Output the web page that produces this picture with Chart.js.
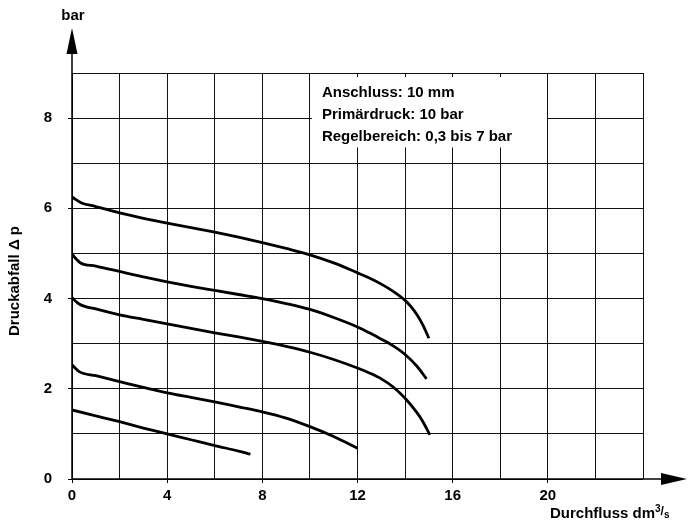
<!DOCTYPE html>
<html>
<head>
<meta charset="utf-8">
<script src="https://cdn.jsdelivr.net/npm/chart.js@4/dist/chart.umd.min.js"></script>
<style>
  html, body { margin: 0; padding: 0; background: #fff; }
  #wrap { width: 688px; height: 527px; }
</style>
</head>
<body>
<div id="wrap"><canvas id="chart"></canvas></div>
<script>
// Durchfluss (dm3/s) and Druckabfall (bar), one pair per curve
const flow1 = [0, 0.4, 1, 2, 3, 4, 5, 6, 7, 8, 9, 10, 11, 12, 12.5, 13, 13.5, 14, 14.25, 14.5, 14.75, 15];
const drop1 = [6.25, 6.12, 6.04, 5.9, 5.78, 5.67, 5.57, 5.47, 5.36, 5.24, 5.11, 4.97, 4.79, 4.57, 4.455, 4.32, 4.16, 3.96, 3.82, 3.64, 3.41, 3.12];
const flow2 = [0, 0.36, 1, 2, 3, 4, 5, 6, 7, 8, 9, 10, 11, 12, 12.5, 13, 13.5, 14, 14.5, 14.9];
const drop2 = [4.98, 4.79, 4.72, 4.6, 4.48, 4.37, 4.27, 4.18, 4.09, 4.0, 3.89, 3.76, 3.58, 3.37, 3.24, 3.1, 2.95, 2.76, 2.5, 2.22];
const flow3 = [0, 0.3, 1, 2, 3, 4, 5, 6, 7, 8, 9, 10, 11, 12, 12.5, 13, 13.5, 14, 14.5, 14.75, 15.04];
const drop3 = [4.02, 3.88, 3.77, 3.64, 3.54, 3.44, 3.34, 3.24, 3.15, 3.05, 2.94, 2.81, 2.65, 2.46, 2.35, 2.22, 2.04, 1.79, 1.47, 1.27, 0.98];
const flow4 = [0, 0.3, 1, 2, 3, 4, 5, 6, 7, 8, 9, 10, 11, 12];
const drop4 = [2.53, 2.38, 2.29, 2.16, 2.03, 1.91, 1.81, 1.71, 1.6, 1.49, 1.35, 1.16, 0.94, 0.68];
const flow5 = [0, 1, 2, 3, 4, 5, 6, 7, 7.5];
const drop5 = [1.53, 1.4, 1.27, 1.13, 1.0, 0.87, 0.74, 0.62, 0.55];

const xTicks = [0, 4, 8, 12, 16, 20];
const yTicks = [0, 2, 4, 6, 8];
const infoLines = ["Anschluss: 10 mm", "Primärdruck: 10 bar", "Regelbereich: 0,3 bis 7 bar"];

const FONT = "'Liberation Sans', Arial, Helvetica, sans-serif";

function pts(xs, ys) {
    return xs.map((x, i) => ({ x: x, y: ys[i] }));
}

const curves = [[flow1, drop1], [flow2, drop2], [flow3, drop3], [flow4, drop4], [flow5, drop5]];

const datasets = curves.map(c => ({
    data: pts(c[0], c[1]),
    borderColor: "#000",
    borderWidth: 2.8,
    pointRadius: 0,
    cubicInterpolationMode: "monotone",
    borderCapStyle: "butt",
    fill: false
}));

// white info box, drawn over the grid but under the curves
const infoBox = {
    id: "infoBox",
    beforeDatasetsDraw(chart) {
        const ctx = chart.ctx;
        const x = chart.scales.x, y = chart.scales.y;
        const left = x.getPixelForValue(10) + 2;
        const right = x.getPixelForValue(20) - 1;
        const top = y.getPixelForValue(9) + 4;
        const bottom = y.getPixelForValue(7.35);
        ctx.save();
        ctx.fillStyle = "#fff";
        ctx.fillRect(left, top, right - left, bottom - top);
        ctx.fillStyle = "#000";
        ctx.font = "bold 15px " + FONT;
        ctx.textBaseline = "alphabetic";
        infoLines.forEach((t, i) => {
            ctx.fillText(t, left + 10, top + 20 + i * 22);
        });
        ctx.restore();
    }
};

// axis lines with arrows and the axis titles
const axisDecor = {
    id: "axisDecor",
    afterDraw(chart) {
        const ctx = chart.ctx;
        const a = chart.chartArea;
        ctx.save();
        ctx.strokeStyle = "#000";
        ctx.fillStyle = "#000";
        ctx.lineWidth = 1.5;
        // y axis
        ctx.beginPath();
        ctx.moveTo(a.left, a.bottom);
        ctx.lineTo(a.left, 50);
        ctx.stroke();
        ctx.beginPath();
        ctx.moveTo(a.left, 28);
        ctx.lineTo(a.left - 5.5, 54);
        ctx.lineTo(a.left + 5.5, 54);
        ctx.closePath();
        ctx.fill();
        // x axis
        ctx.beginPath();
        ctx.moveTo(a.left, a.bottom);
        ctx.lineTo(664, a.bottom);
        ctx.stroke();
        ctx.beginPath();
        ctx.moveTo(687, a.bottom);
        ctx.lineTo(661, a.bottom - 6);
        ctx.lineTo(661, a.bottom + 6);
        ctx.closePath();
        ctx.fill();

        ctx.font = "bold 15px " + FONT;
        ctx.textAlign = "center";
        ctx.textBaseline = "alphabetic";
        ctx.fillText("bar", a.left + 1, 20);

        // y title
        ctx.save();
        ctx.translate(19, (a.top + a.bottom) / 2 + 5);
        ctx.rotate(-Math.PI / 2);
        ctx.font = "bold 15px " + FONT;
        ctx.fillText("Druckabfall \u0394 p", 0, 0);
        ctx.restore();

        // x title
        ctx.textAlign = "left";
        ctx.font = "bold 15px " + FONT;
        const base = 518;
        let px = 550;
        ctx.fillText("Durchfluss dm", px, base);
        px += ctx.measureText("Durchfluss dm").width;
        ctx.font = "bold 10px " + FONT;
        ctx.fillText("3", px, base - 6);
        px += ctx.measureText("3").width;
        ctx.font = "bold 12px " + FONT;
        ctx.fillText("/", px, base - 3);
        px += ctx.measureText("/").width;
        ctx.font = "bold 10px " + FONT;
        ctx.fillText("s", px, base);
        ctx.restore();
    }
};

new Chart(document.getElementById("chart"), {
    type: "line",
    data: { datasets: datasets },
    options: {
        responsive: true,
        maintainAspectRatio: false,
        animation: false,
        layout: { padding: { top: 73, right: 45, left: 0, bottom: 0 } },
        plugins: {
            legend: { display: false },
            tooltip: { enabled: false }
        },
        scales: {
            x: {
                type: "linear",
                min: 0,
                max: 24,
                afterFit(s) { s.height = 48; },
                afterBuildTicks(s) {
                    s.ticks = [];
                    for (let v = 0; v <= 24; v += 2) s.ticks.push({ value: v });
                },
                ticks: {
                    autoSkip: false,
                    maxRotation: 0,
                    padding: 4,
                    color: "#000",
                    font: { family: FONT, size: 15, weight: "bold" },
                    callback: v => xTicks.includes(v) ? String(v) : ""
                },
                grid: {
                    color: "#111",
                    lineWidth: 1,
                    tickLength: 4,
                    tickColor: c => xTicks.includes(c.tick && c.tick.value) ? "#000" : "rgba(0,0,0,0)"
                },
                border: { display: false }
            },
            y: {
                type: "linear",
                min: 0,
                max: 9,
                afterFit(s) { s.width = 72; },
                afterBuildTicks(s) {
                    s.ticks = [];
                    for (let v = 0; v <= 9; v += 1) s.ticks.push({ value: v });
                },
                ticks: {
                    autoSkip: false,
                    padding: 16,
                    color: "#000",
                    font: { family: FONT, size: 15, weight: "bold" },
                    callback: v => yTicks.includes(v) ? String(v) : ""
                },
                grid: {
                    color: "#111",
                    lineWidth: 1,
                    tickLength: 4,
                    tickColor: c => yTicks.includes(c.tick && c.tick.value) ? "#000" : "rgba(0,0,0,0)"
                },
                border: { display: false }
            }
        }
    },
    plugins: [infoBox, axisDecor]
});
</script>
</body>
</html>
